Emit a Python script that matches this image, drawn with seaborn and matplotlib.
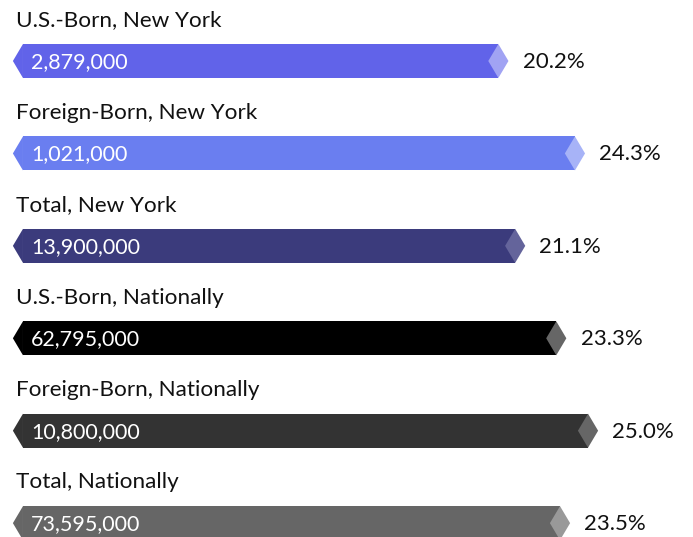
import pandas as pd
import matplotlib.pyplot as plt
import seaborn as sns
from matplotlib.patches import Polygon

# 数据
groups = ['U.S.-Born, New York', 'Foreign-Born, New York', 'Total, New York',
          'U.S.-Born, Nationally', 'Foreign-Born, Nationally', 'Total, Nationally']
population = ['2,879,000', '1,021,000', '13,900,000', '62,795,000', '10,800,000', '73,595,000']
pct = [20.2, 24.3, 21.1, 23.3, 25.0, 23.5]

bar_colors = ['#6163E9', '#6A7EF0', '#3B3B7C', '#000000', '#333333', '#666666']
tip_colors = ['#A1A3F3', '#A7B3F7', '#64649B', '#666666', '#666666', '#999999']

df = pd.DataFrame({'group': groups, 'pct': pct})

sns.set_theme(style='white')
plt.rcParams['font.family'] = ['Lato', 'DejaVu Sans']

fig = plt.figure(figsize=(6.93, 5.37), dpi=100)
ax = fig.add_axes([0, 0, 1, 1])

# 条形的起点（左侧不从0开始）
base = -5.25
half_h = 0.184

sns.barplot(data=df, x='pct', y='group', hue='group', palette=bar_colors,
            orient='h', width=2 * half_h, legend=False, ax=ax, saturation=1)

for i, p in enumerate(ax.patches):
    p.set_x(base)
    p.set_width(pct[i] - base)
    p.set_linewidth(0)

dx = 0.54  # 箭头宽度
for i, v in enumerate(pct):
    # 左侧尖角
    ax.add_patch(Polygon([(base, i - half_h), (base - dx, i), (base, i + half_h)],
                         closed=True, facecolor=bar_colors[i], edgecolor='none'))
    # 右侧菱形
    ax.add_patch(Polygon([(v - dx, i), (v, i - half_h), (v + dx, i), (v, i + half_h)],
                         closed=True, facecolor=tip_colors[i], edgecolor='none'))
    ax.text(-5.62, i - 0.44, groups[i], fontsize=16.2, color='#111111', va='center', ha='left')
    ax.text(-4.82, i + 0.01, population[i], fontsize=15.5, color='white', va='center', ha='left')
    ax.text(v + 1.3, i + 0.01, f'{v:.1f}%', fontsize=16, color='#111111', va='center', ha='left')

ax.set_xlim(-6.48, 30.62)
ax.set_ylim(5.15, -0.66)
ax.set_axis_off()

plt.savefig('out.png', dpi=100)
